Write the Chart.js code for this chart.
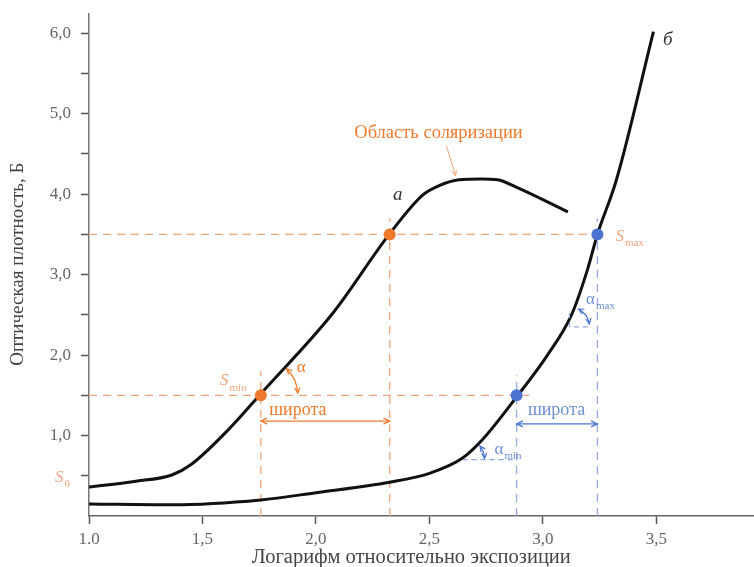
<!DOCTYPE html>
<html>
<head>
<meta charset="utf-8">
<script src="https://cdn.jsdelivr.net/npm/chart.js@4.4.1/dist/chart.umd.min.js"></script>
<style>
  html, body { margin: 0; padding: 0; background: #fff; }
</style>
</head>
<body>
<canvas id="chart" width="754" height="567"></canvas>
<script>
// axis ticks
var xTicks = [1.0, 1.5, 2.0, 2.5, 3.0, 3.5];
var xTickLabels = ['1.0', '1,5', '2,0', '2,5', '3,0', '3,5'];
var yTicks = [0.5, 1, 1.5, 2, 2.5, 3, 3.5, 4, 4.5, 5, 5.5, 6];
var yTickLabels = ['', '1,0', '', '2,0', '', '3,0', '', '4,0', '', '5,0', '', '6,0'];

// curve "а"
var curveAx = [1.0, 1.2, 1.365, 1.45, 1.62, 1.757, 2.074, 2.325, 2.47, 2.545, 2.63, 2.73, 2.80, 2.88, 3.11];
var curveAy = [0.36, 0.43, 0.51, 0.64, 1.09, 1.52, 2.52, 3.51, 3.99, 4.11, 4.18, 4.19, 4.18, 4.09, 3.78];

// curve "б"
var curveBx = [1.0, 1.365, 1.757, 2.0, 2.325, 2.5, 2.646, 2.734, 2.884, 3.02, 3.126, 3.196, 3.24, 3.324, 3.487];
var curveBy = [0.15, 0.14, 0.20, 0.29, 0.42, 0.53, 0.72, 0.95, 1.48, 2.0, 2.5, 3.06, 3.5, 4.18, 6.02];

// density levels S_min / S_max and where they cross the curves
var sLevels = [1.5, 3.5];
var sLevelEnd = [2.94, 3.265];
var crossA = [1.757, 2.325];
var crossATop = [1.8, 3.7];
var crossB = [2.884, 3.24];
var crossBTop = [1.75, 3.7];

var ORANGE = '#f07a2c';
var ORANGE_LIGHT = '#f2a47c';
var BLUE = '#4a74cf';
var BLUE_LIGHT = '#93a9e0';
var SERIF = '"Liberation Serif", "DejaVu Serif", serif';

function zip(xs, ys) {
  return xs.map(function(x, i) { return { x: x, y: ys[i] }; });
}

function dashed(points, color) {
  return {
    data: points, showLine: true, borderColor: color, borderWidth: 1.3,
    borderDash: [8, 6], pointRadius: 0, order: 3
  };
}

var datasets = [];
datasets.push({ data: zip(curveAx, curveAy), showLine: true, borderColor: '#111', borderWidth: 3,
  cubicInterpolationMode: 'monotone', pointRadius: 0, order: 2 });
datasets.push({ data: zip(curveBx, curveBy), showLine: true, borderColor: '#111', borderWidth: 3,
  cubicInterpolationMode: 'monotone', pointRadius: 0, order: 2 });
sLevels.forEach(function(s, i) {
  datasets.push(dashed([{ x: 1.0, y: s }, { x: sLevelEnd[i], y: s }], ORANGE_LIGHT));
  datasets.push(dashed([{ x: crossA[i], y: 0 }, { x: crossA[i], y: crossATop[i] }], ORANGE_LIGHT));
  datasets.push(dashed([{ x: crossB[i], y: 0 }, { x: crossB[i], y: crossBTop[i] }], BLUE_LIGHT));
});
datasets.push({ data: zip(crossA, sLevels), pointRadius: 6, pointBackgroundColor: ORANGE,
  pointBorderWidth: 0, showLine: false, order: 0 });
datasets.push({ data: zip(crossB, sLevels), pointRadius: 6, pointBackgroundColor: BLUE,
  pointBorderWidth: 0, showLine: false, order: 0 });

function head(ctx, x, y, dx, dy, size) {
  var a = Math.atan2(dy, dx);
  ctx.beginPath();
  ctx.moveTo(x - size * Math.cos(a - 0.45), y - size * Math.sin(a - 0.45));
  ctx.lineTo(x, y);
  ctx.lineTo(x - size * Math.cos(a + 0.45), y - size * Math.sin(a + 0.45));
  ctx.stroke();
}

function arcArrows(ctx, cx, cy, r, a1, a2, color) {
  ctx.strokeStyle = color;
  ctx.lineWidth = 1.2;
  ctx.beginPath();
  ctx.arc(cx, cy, r, a1, a2);
  ctx.stroke();
  head(ctx, cx + r * Math.cos(a1), cy + r * Math.sin(a1), Math.sin(a1), -Math.cos(a1), 6);
  head(ctx, cx + r * Math.cos(a2), cy + r * Math.sin(a2), -Math.sin(a2), Math.cos(a2), 6);
}

function withSub(ctx, main, sub, x, y, color, size, italic) {
  ctx.fillStyle = color;
  ctx.textAlign = 'left';
  ctx.textBaseline = 'middle';
  ctx.font = (italic ? 'italic ' : '') + size + 'px ' + SERIF;
  ctx.fillText(main, x, y);
  var w = ctx.measureText(main).width;
  ctx.font = Math.round(size * 0.65) + 'px ' + SERIF;
  ctx.fillText(sub, x + w + 1, y + size * 0.4);
}

function span(ctx, x1, x2, y, color) {
  ctx.strokeStyle = color;
  ctx.lineWidth = 1.3;
  ctx.beginPath();
  ctx.moveTo(x1, y);
  ctx.lineTo(x2, y);
  ctx.stroke();
  head(ctx, x1, y, -1, 0, 7);
  head(ctx, x2, y, 1, 0, 7);
}

var annotations = {
  id: 'annotations',
  afterDatasetsDraw: function(chart) {
    var ctx = chart.ctx;
    var xs = chart.scales.x, ys = chart.scales.y;
    var px = function(v) { return xs.getPixelForValue(v); };
    var py = function(v) { return ys.getPixelForValue(v); };
    ctx.save();

    // latitude spans
    span(ctx, px(crossA[0]), px(crossA[1]), py(1.18), ORANGE);
    span(ctx, px(crossB[0]), px(crossB[1]), py(1.145), BLUE);
    ctx.font = '18px ' + SERIF;
    ctx.textAlign = 'center';
    ctx.textBaseline = 'middle';
    ctx.fillStyle = ORANGE;
    ctx.fillText('широта', px(1.92), py(1.31));
    ctx.fillStyle = '#6d8fd6';
    ctx.fillText('широта', px(3.06), py(1.31));

    // solarization label and pointer
    ctx.font = '18.5px ' + SERIF;
    ctx.fillStyle = ORANGE;
    ctx.fillText('Область соляризации', px(2.54), py(4.76));
    ctx.strokeStyle = ORANGE_LIGHT;
    ctx.lineWidth = 1;
    ctx.beginPath();
    ctx.moveTo(px(2.575), py(4.6));
    ctx.lineTo(px(2.615), py(4.23));
    ctx.stroke();
    head(ctx, px(2.615), py(4.23), px(2.615) - px(2.575), py(4.23) - py(4.6), 6);

    // curve names
    ctx.font = 'italic 19px ' + SERIF;
    ctx.fillStyle = '#333';
    ctx.fillText('а', px(2.36), py(3.99));
    ctx.fillText('б', px(3.55), py(5.92));

    // S labels
    withSub(ctx, 'S', '0', 55, py(0.5) + 2, '#f4a57e', 17, true);
    withSub(ctx, 'S', 'min', px(1.577), py(1.68), ORANGE_LIGHT, 17, true);
    withSub(ctx, 'S', 'max', px(3.32), py(3.48), ORANGE_LIGHT, 17, true);

    // gradient angles
    arcArrows(ctx, px(crossA[0]), py(sLevels[0]), 37, -0.8, -0.06, ORANGE);
    withSub(ctx, 'α', '', px(1.915), py(1.84), ORANGE, 17, false);

    ctx.setLineDash([5, 4]);
    ctx.strokeStyle = BLUE_LIGHT;
    ctx.lineWidth = 1.2;
    ctx.beginPath();
    ctx.moveTo(px(2.646), py(0.7));
    ctx.lineTo(px(crossB[0]), py(0.7));
    ctx.moveTo(px(3.117), py(2.52));
    ctx.lineTo(px(3.117), py(2.35));
    ctx.lineTo(px(3.215), py(2.35));
    ctx.stroke();
    ctx.setLineDash([]);
    arcArrows(ctx, px(2.646), py(0.7), 22, -0.66, -0.06, BLUE);
    arcArrows(ctx, px(3.117), py(2.35), 20, -1.1, -0.15, BLUE);
    withSub(ctx, 'α', 'min', px(2.787), py(0.83), '#6d8fd6', 17, false);
    withSub(ctx, 'α', 'max', px(3.19), py(2.69), '#6d8fd6', 17, false);

    // axis titles
    ctx.fillStyle = '#444';
    ctx.font = '20.5px ' + SERIF;
    ctx.textAlign = 'center';
    ctx.fillText('Логарифм относительно экспозиции', px(2.42), ys.bottom + 42);
    ctx.font = '19px ' + SERIF;
    ctx.translate(18, py(3.13));
    ctx.rotate(-Math.PI / 2);
    ctx.fillText('Оптическая плотность, Б', 0, 0);
    ctx.restore();
  }
};

var ctx = document.getElementById('chart').getContext('2d');
window.chart = new Chart(ctx, {
  type: 'scatter',
  data: { datasets: datasets },
  options: {
    responsive: false,
    animation: false,
    devicePixelRatio: 1,
    layout: { autoPadding: false, padding: { top: 14, right: 0, left: 0, bottom: 0 } },
    plugins: { legend: { display: false }, tooltip: { enabled: false } },
    scales: {
      x: {
        type: 'linear', min: 1.0, max: 3.93,
        afterBuildTicks: function(scale) {
          scale.ticks = xTicks.map(function(v) { return { value: v }; });
        },
        afterFit: function(scale) {
          scale.height = 51;
          scale.paddingLeft = 0;
          scale.paddingRight = 0;
        },
        ticks: {
          padding: 5, color: '#666', font: { family: SERIF, size: 17 },
          maxRotation: 0, autoSkip: false,
          callback: function(value, index) { return xTickLabels[index]; }
        },
        grid: { drawOnChartArea: false, tickLength: 8, tickColor: '#555', tickWidth: 1.5 },
        border: { display: true, color: '#666', width: 1.5 }
      },
      y: {
        type: 'linear', min: 0, max: 6.24,
        afterBuildTicks: function(scale) {
          scale.ticks = yTicks.map(function(v) { return { value: v }; });
        },
        afterFit: function(scale) {
          scale.width = 89;
          scale.paddingTop = 0;
          scale.paddingBottom = 0;
        },
        ticks: {
          padding: 10, color: '#666', font: { family: SERIF, size: 17 },
          autoSkip: false,
          callback: function(value, index) { return yTickLabels[index]; }
        },
        grid: { drawOnChartArea: false, tickLength: 8, tickColor: '#555', tickWidth: 1.5 },
        border: { display: true, color: '#777', width: 1.5 }
      }
    }
  },
  plugins: [annotations]
});
</script>
</body>
</html>
